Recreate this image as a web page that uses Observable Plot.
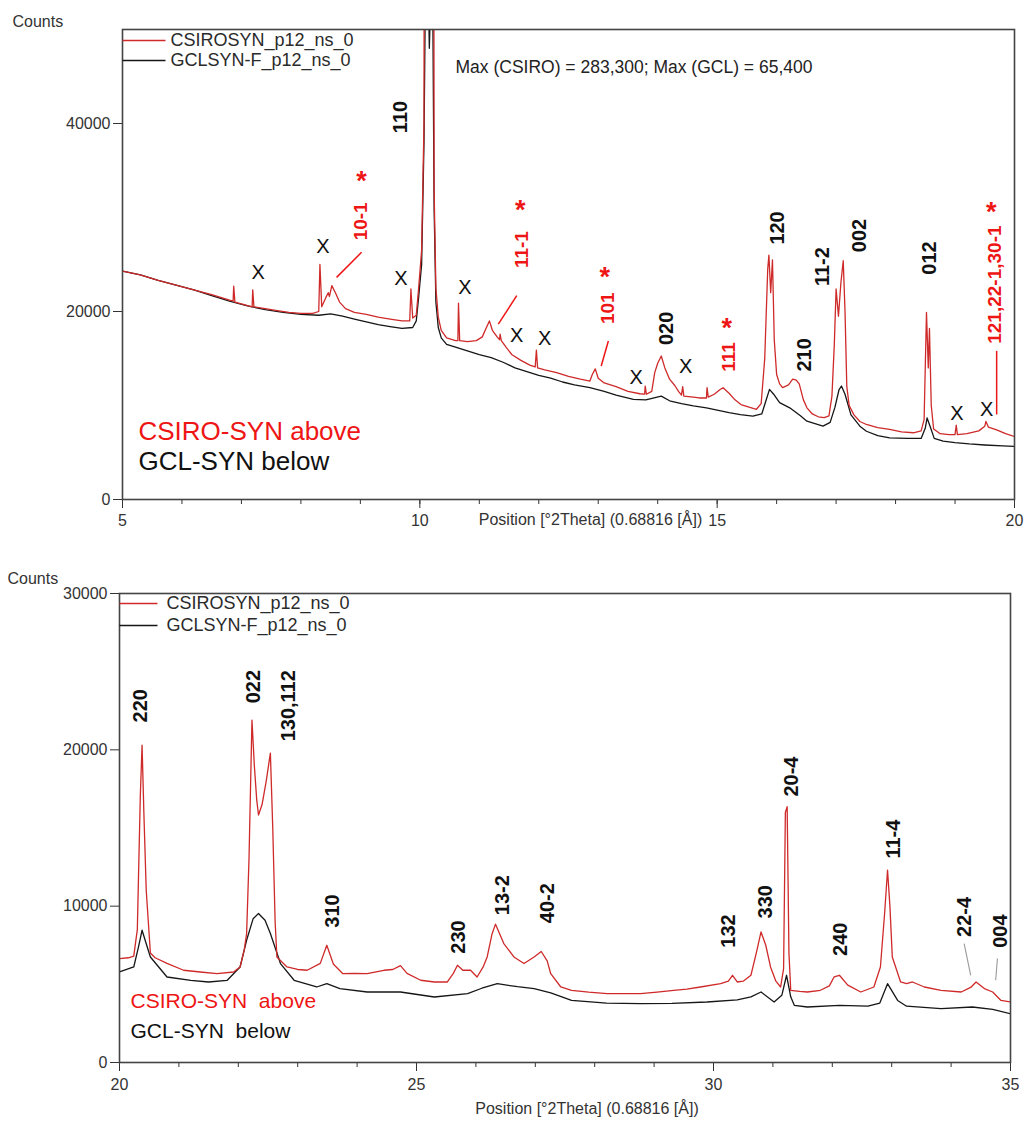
<!DOCTYPE html>
<html>
<head>
<meta charset="utf-8">
<script src="https://cdn.jsdelivr.net/npm/d3@7"></script>
<script src="https://cdn.jsdelivr.net/npm/@observablehq/plot@0.6"></script>
<style>
  body { margin: 0; background: #fff; font-family: "Liberation Sans", Arial, sans-serif; }
  #chart svg { display: block; }
</style>
</head>
<body>
<div id="chart"></div>
<script>
// ---------------- DATA ----------------
const legendNames = ["CSIROSYN_p12_ns_0", "GCLSYN-F_p12_ns_0"];
const xAxisLabel = "Position [°2Theta] (0.68816 [Å])";
const yAxisLabel = "Counts";
const maxNote = "Max (CSIRO) = 283,300; Max (GCL) = 65,400";
const topSeriesLabels = ["CSIRO-SYN above", "GCL-SYN below"];
const botSeriesLabels = ["CSIRO-SYN\u00a0 above", "GCL-SYN\u00a0 below"];
const topYTicks = [0, 20000, 40000];
const topXTicks = [5, 10, 15, 20];
const botYTicks = [0, 10000, 20000, 30000];
const botXTicks = [20, 25, 30, 35];

// Top panel (5–20 °2θ)
const topCsiroX = [5.0,5.3,5.6,5.9,6.2,6.5,6.8,6.86,6.87,6.89,7.0,7.18,7.19,7.21,7.4,7.6,7.8,8.0,8.2,8.3,8.32,8.35,8.42,8.46,8.48,8.52,8.58,8.65,8.75,8.9,9.1,9.3,9.5,9.7,9.83,9.85,9.88,9.94,9.98,10.03,10.07,10.11,10.16,10.21,10.24,10.27,10.31,10.36,10.45,10.6,10.64,10.65,10.67,10.8,10.95,11.05,11.12,11.17,11.22,11.3,11.34,11.35,11.37,11.45,11.55,11.7,11.85,11.94,11.96,11.98,12.1,12.3,12.5,12.7,12.86,12.9,12.95,13.0,13.1,13.3,13.5,13.7,13.78,13.79,13.81,13.9,13.95,14.0,14.06,14.12,14.2,14.29,14.35,14.4,14.42,14.44,14.6,14.7,14.82,14.83,14.85,14.95,15.05,15.1,15.2,15.3,15.4,15.55,15.66,15.74,15.8,15.85,15.87,15.9,15.93,15.96,16.0,16.05,16.1,16.2,16.27,16.33,16.38,16.45,16.51,16.6,16.7,16.8,16.88,16.93,16.97,17.0,17.04,17.08,17.12,17.15,17.18,17.22,17.3,17.4,17.51,17.7,17.9,18.1,18.3,18.43,18.48,18.52,18.55,18.57,18.6,18.64,18.75,18.9,19.0,19.02,19.04,19.2,19.4,19.5,19.52,19.56,19.7,19.85,20.0];
const topCsiroY = [24300,23900,23300,22800,22300,21800,21200,21100,22700,21000,20800,20500,22300,20500,20300,20100,19900,19800,19800,20000,25000,20500,21500,22000,21600,22750,22000,21000,20300,19900,19700,19400,19200,19000,19000,22400,19300,19600,22500,26500,40000,283300,150000,220000,33000,22500,19400,18000,17200,16900,16900,20900,16900,16800,16900,17300,18300,19000,18000,17300,17000,17600,16900,16200,15400,14800,14300,14100,15900,14000,13800,13500,13100,12800,12600,13300,13900,12900,12400,12000,11500,11250,11200,12070,11200,11500,13500,14500,15270,14000,12800,12100,11500,11100,12000,11000,10900,10800,10800,11900,10900,11200,11700,11890,11300,10600,10100,9800,9600,10200,15000,24500,26000,22000,25500,17000,13300,12300,11900,12200,12800,12700,12300,10600,9750,9100,8800,8700,8900,11000,16500,22400,19500,23000,25400,20000,12000,10000,9000,8300,7980,7650,7450,7200,7100,7300,8500,19900,14000,18200,10000,7500,7000,6900,6900,7900,6900,7000,7300,7800,8300,7700,7400,7000,6700];
const topGclX = [5.0,5.3,5.6,5.9,6.2,6.5,6.8,7.1,7.4,7.7,8.0,8.3,8.5,8.7,8.9,9.1,9.3,9.5,9.7,9.88,9.94,9.98,10.03,10.07,10.11,10.16,10.21,10.24,10.27,10.31,10.36,10.45,10.6,10.8,11.0,11.2,11.4,11.6,11.8,12.0,12.2,12.4,12.6,12.86,13.1,13.3,13.59,13.8,14.06,14.2,14.4,14.6,14.82,15.0,15.2,15.39,15.6,15.75,15.82,15.88,15.95,16.05,16.22,16.4,16.51,16.78,16.9,16.98,17.05,17.09,17.15,17.25,17.4,17.51,17.7,17.9,18.2,18.43,18.5,18.53,18.58,18.65,18.8,19.0,19.24,19.5,19.8,20.0];
const topGclY = [24300,23900,23300,22800,22300,21700,21100,20600,20200,19900,19700,19600,19750,19500,19200,18900,18600,18400,18200,18300,19000,21500,25000,38000,65400,48000,60000,31000,21000,18300,17200,16500,16200,15800,15400,15100,14600,14000,13600,13200,12900,12500,12200,11900,11500,11100,10650,10600,11000,10500,10200,9950,9750,9500,9250,9040,8860,9100,10500,11710,11200,10300,9750,8900,8330,7800,8200,9800,11700,12070,11200,9000,7800,7260,6800,6550,6500,6500,7600,8680,7800,6500,6200,6050,5910,5800,5700,5660];

// Top panel annotations
const topHklLabels = ["110","020","120","210","11-2","002","012"];
const topHklX = [9.68,14.15,16.02,16.47,16.78,17.40,18.57];
const topHklY = [40690,18210,28890,15380,24780,28090,25690];
const topRedLabels = ["10-1","11-1","101","111","121,22-1,30-1"];
const topRedX = [9.01,11.71,13.16,15.19,19.67];
const topRedY = [29590,26590,20350,15170,22860];
const topStarX = [9.02,11.69,13.11,15.16,19.61];
const topStarY = [34680,31640,24530,19080,31400];
const topLeadX1 = [9.02,11.63,13.17,19.70];
const topLeadY1 = [26300,21680,16870,15810];
const topLeadX2 = [8.60,11.32,13.05,19.70];
const topLeadY2 = [23630,18660,14200,9050];
const topXmarkX = [7.28,8.37,9.68,10.76,11.63,12.10,13.64,14.47,19.03,19.53];
const topXmarkY = [24170,26910,23500,22570,17410,17090,12960,14100,9190,9580];

// Bottom panel (20–35 °2θ)
const botCsiroX = [20.0,20.15,20.24,20.3,20.35,20.38,20.41,20.45,20.52,20.6,20.8,21.08,21.36,21.64,21.92,22.03,22.1,22.14,22.18,22.23,22.27,22.31,22.34,22.4,22.47,22.54,22.58,22.62,22.65,22.82,23.0,23.16,23.38,23.49,23.6,23.76,23.95,24.17,24.45,24.6,24.73,24.84,25.07,25.3,25.52,25.62,25.69,25.78,25.91,26.02,26.12,26.19,26.27,26.33,26.47,26.64,26.81,26.98,27.1,27.2,27.26,27.43,27.61,27.9,28.21,28.5,28.77,29.05,29.33,29.55,29.78,30.12,30.25,30.32,30.4,30.5,30.63,30.72,30.8,30.88,30.96,31.05,31.13,31.18,31.21,31.24,31.27,31.3,31.45,31.58,31.8,31.95,32.03,32.12,32.26,32.48,32.7,32.81,32.88,32.93,32.97,33.01,33.15,33.25,33.35,33.55,33.83,34.17,34.33,34.42,34.56,34.7,34.84,35.0];
const botCsiroY = [6650,6700,6800,8500,17000,20300,16000,11000,7000,6700,6340,5900,5790,5680,5790,6110,7200,8250,13000,21900,19000,16800,15830,16500,18000,19790,15000,9000,6750,6110,5950,5900,6340,7500,6300,5680,5700,5680,5900,5950,6200,5700,5260,5150,5150,5700,6220,5900,5900,5470,6100,6750,8200,8850,7610,6750,6330,6750,7100,6500,5680,4830,4620,4500,4400,4400,4400,4500,4620,4700,4830,5040,5200,5580,5150,5200,5580,7000,8350,7500,6110,5200,4830,6000,16000,16370,7000,4620,4550,4510,4620,4900,5470,5580,4950,4510,4830,6110,9500,12310,10000,6750,5150,5050,5150,4830,4620,4510,4800,5150,4730,4510,3970,3870];
const botGclX = [20.0,20.24,20.32,20.38,20.45,20.52,20.8,21.2,21.5,21.81,22.03,22.14,22.25,22.34,22.45,22.54,22.71,22.94,23.32,23.49,23.71,24.17,24.73,25.3,25.86,26.1,26.36,26.7,26.98,27.26,27.61,28.2,28.77,29.3,29.89,30.4,30.63,30.8,31.02,31.15,31.23,31.3,31.36,31.58,32.12,32.6,32.8,32.93,33.1,33.25,33.83,34.36,34.7,35.0];
const botGclY = [5790,6110,7400,8460,7600,6750,5470,5250,5150,5250,6110,7820,9200,9530,9100,8250,6330,5260,4830,5050,4730,4510,4510,4190,4400,4750,5040,4850,4730,4450,3970,3800,3760,3780,3870,4000,4200,4510,3870,4300,5580,4200,3660,3550,3660,3600,3800,5040,3970,3600,3440,3550,3400,3120];

// Bottom panel annotations
const botHklLabels = ["220","022","130,112","310","230","13-2","40-2","132","330","20-4","240","11-4","22-4","004"];
const botHklX = [20.35,22.25,22.84,23.58,25.71,26.45,27.20,30.26,30.88,31.32,32.14,33.04,34.23,34.84];
const botHklY = [22820,24040,22820,9690,8030,10700,10190,8410,10280,18290,7880,14290,9310,8400];
const botLeadX1 = [34.22,34.78];
const botLeadY1 = [7610,6650];
const botLeadX2 = [34.33,34.75];
const botLeadY2 = [5580,5260];

// ---------------- DRAWING ----------------
const W = 1024;
const RED = "#cf2a2a";
const LABEL_RED = "#ee1515";
const BLACK = "#161616";
const FONT = "'Liberation Sans', Arial, sans-serif";

const rows = (xs, ys) => xs.map((x, i) => ({x, y: ys[i]}));
const labelRows = (ts, xs, ys) => ts.map((t, i) => ({t, x: xs[i], y: ys[i]}));
const linkRows = (x1, y1, x2, y2) => x1.map((_, i) => ({x1: x1[i], y1: y1[i], x2: x2[i], y2: y2[i]}));

function panel(o) {
  const [x0, x1] = o.xDomain;
  const yMax = o.yDomain[1];
  const frameW = W - o.marginLeft - o.marginRight;
  const frameH = o.height - o.marginTop - o.marginBottom;
  const ux = (x1 - x0) / frameW, uy = yMax / frameH;
  const legend = legendNames.map((name, i) => ({
    name, color: [RED, BLACK][i],
    x1: x0, x2: x0 + o.legendLen * ux, y: yMax - o.legendOff[i] * uy
  }));
  const marks = [
    Plot.axisY({ticks: o.yTicks, tickFormat: () => "", tickSize: 9, label: null}),
    Plot.axisX({ticks: d3.range(x0, x1 + 1), tickSize: 5, tickFormat: () => "", label: null}),
    Plot.axisX({ticks: o.xMajor, tickSize: 9, tickFormat: () => "", label: null}),
    // tick labels drawn from the tick arrays through the scales
    Plot.text(o.yTicks, {x: () => x0, y: d => d, text: d => String(d), textAnchor: "end", dx: -12, fontSize: 16, fill: "#333", ariaLabel: "ytick-text"}),
    Plot.text(o.xMajor, {x: d => d, y: () => 0, text: d => String(d), dy: o.xTickDy, fontSize: 16, fill: "#333", ariaLabel: "xtick-text"}),
    Plot.line(rows(o.gclX, o.gclY), {x: "x", y: "y", stroke: BLACK, strokeWidth: 1.3, clip: true}),
    Plot.line(rows(o.csiroX, o.csiroY), {x: "x", y: "y", stroke: RED, strokeWidth: 1.3, clip: true}),
    Plot.frame({stroke: "#444", strokeWidth: 1.6}),
    ...legend.map(r => Plot.link([r], {x1: "x1", x2: "x2", y1: "y", y2: "y", stroke: r.color, strokeWidth: 1.4})),
    Plot.text(legend, {x: "x2", y: "y", text: "name", textAnchor: "start", dx: o.legendGap, fontSize: 18, fill: "#2a2a2a", ariaLabel: "legend-text"}),
    Plot.text([yAxisLabel], {frameAnchor: "top-left", textAnchor: "start", dx: o.countsDx, dy: o.countsDy, fontSize: 16, fill: "#333", ariaLabel: "counts-text"}),
    Plot.text([xAxisLabel], {frameAnchor: "bottom", dx: 22, dy: o.xLabelDy, fontSize: 16, fill: "#333", ariaLabel: "xlabel-text"}),
    Plot.text([o.seriesLabels[0]], {frameAnchor: "bottom-left", textAnchor: "start", dx: o.seriesDx, dy: o.seriesDy[0], fontSize: o.seriesFont, fill: LABEL_RED, ariaLabel: "series-text"}),
    Plot.text([o.seriesLabels[1]], {frameAnchor: "bottom-left", textAnchor: "start", dx: o.seriesDx, dy: o.seriesDy[1], fontSize: o.seriesFont, fill: "#111", ariaLabel: "series-text"}),
    Plot.text(o.hkl, {x: "x", y: "y", text: "t", rotate: -90, fontSize: 20, fontWeight: "bold", fill: "#111"}),
    ...(o.extra || [])
  ];
  const svg = Plot.plot({
    width: W, height: o.height,
    marginLeft: o.marginLeft, marginRight: o.marginRight,
    marginTop: o.marginTop, marginBottom: o.marginBottom,
    x: {domain: o.xDomain},
    y: {domain: o.yDomain},
    style: {fontFamily: FONT, color: "#333", background: "#fff", overflow: "visible"},
    marks
  });
  const s = d3.select(svg);
  s.selectAll('g[aria-label="ytick-text"] text, g[aria-label="xtick-text"] text').style("letter-spacing", "-0.3px");
  s.selectAll('g[aria-label="legend-text"] text').style("letter-spacing", "-1px");
  s.selectAll('g[aria-label="counts-text"] text').style("letter-spacing", "-0.6px");
  s.selectAll('g[aria-label="xlabel-text"] text').style("letter-spacing", "-0.4px");
  s.selectAll('g[aria-label="series-text"] text').style("letter-spacing", o.seriesSpacing).style("white-space", "pre");
  return svg;
}

const topExtra = [
  Plot.link(linkRows(topLeadX1, topLeadY1, topLeadX2, topLeadY2), {x1: "x1", y1: "y1", x2: "x2", y2: "y2", stroke: LABEL_RED, strokeWidth: 1.5}),
  Plot.text(labelRows(topRedLabels, topRedX, topRedY), {x: "x", y: "y", text: "t", rotate: -90, fontSize: 19, fontWeight: "bold", fill: LABEL_RED}),
  Plot.text(labelRows(topRedLabels.map(() => "*"), topStarX, topStarY), {x: "x", y: "y", text: "t", fontSize: 27, fontWeight: "bold", fill: LABEL_RED, dy: 8}),
  Plot.text(labelRows(topXmarkX.map(() => "X"), topXmarkX, topXmarkY), {x: "x", y: "y", text: "t", fontSize: 20, fill: "#111"}),
  Plot.text([maxNote], {frameAnchor: "top-left", textAnchor: "start", dx: 333, dy: 31, fontSize: 17.5, fill: "#222"})
];

const botExtra = [
  Plot.link(linkRows(botLeadX1, botLeadY1, botLeadX2, botLeadY2), {x1: "x1", y1: "y1", x2: "x2", y2: "y2", stroke: "#999", strokeWidth: 1.1})
];

const topSvg = panel({
  xDomain: [5, 20], yDomain: [0, 50000], yTicks: topYTicks, xMajor: topXTicks,
  height: 548, marginLeft: 122, marginRight: 10, marginTop: 29, marginBottom: 49,
  csiroX: topCsiroX, csiroY: topCsiroY, gclX: topGclX, gclY: topGclY,
  hkl: labelRows(topHklLabels, topHklX, topHklY),
  legendLen: 43, legendGap: 5, legendOff: [11, 31],
  countsDx: -110, countsDy: -14, xLabelDy: 25, xTickDy: 21,
  seriesLabels: topSeriesLabels, seriesDx: 16, seriesDy: [-60, -30], seriesFont: 26, seriesSpacing: "0.5px",
  extra: topExtra
});

const botSvg = panel({
  xDomain: [20, 35], yDomain: [0, 30000], yTicks: botYTicks, xMajor: botXTicks,
  height: 574, marginLeft: 119, marginRight: 14, marginTop: 45, marginBottom: 60,
  csiroX: botCsiroX, csiroY: botCsiroY, gclX: botGclX, gclY: botGclY,
  hkl: labelRows(botHklLabels, botHklX, botHklY),
  legendLen: 38, legendGap: 9, legendOff: [10, 32],
  countsDx: -112, countsDy: -21, xLabelDy: 51, xTickDy: 22,
  seriesLabels: botSeriesLabels, seriesDx: 11, seriesDy: [-55, -25], seriesFont: 21, seriesSpacing: "2.4px",
  extra: botExtra
});

document.getElementById("chart").append(topSvg, botSvg);
</script>
</body>
</html>
